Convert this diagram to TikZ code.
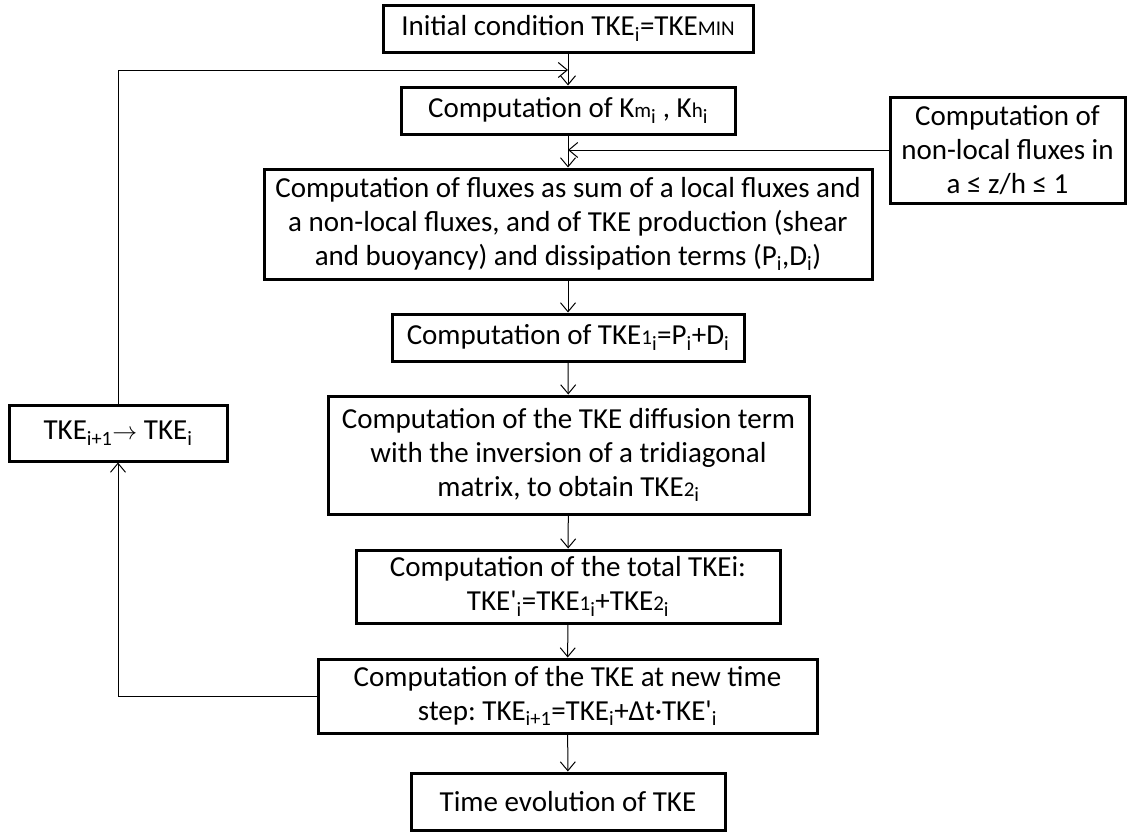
\documentclass[tikz,border=0pt]{standalone}
\usepackage{fontspec}
\setmainfont{Carlito}
\usetikzlibrary{arrows.meta}
\frenchspacing
\newcommand{\subi}[1]{\textsubscript{#1}}
\newcommand{\smtxt}[1]{{\fontsize{21}{21}\selectfont #1}}
\tikzset{
  box/.style={draw, line width=3pt, align=center, inner sep=0pt, font=\fontsize{29}{34}\selectfont},
  flow/.style={->, line width=1pt},
  >={Straight Barb[length=9pt,width=15pt]}
}
\begin{document}
\begin{tikzpicture}[x=1pt, y=-1pt]
\useasboundingbox (0,0) rectangle (1127,833);
\node[box, minimum width=370, minimum height=47] (init) at (568,28.5) {Initial condition TKE\subi{i}=TKE\smtxt{MIN}}; % start
\node[box, minimum width=334, minimum height=47] (km) at (568,110.5) {Computation of K\smtxt{m}\subi{i} , K\smtxt{h}\subi{i}}; % Km, Kh
\node[box, minimum width=235, minimum height=106] (nonloc) at (1007.5,150) {Computation of\\non-local fluxes in\\a ≤ z/h ≤ 1}; % side input
\node[box, minimum width=608, minimum height=110] (flux) at (568,224) {Computation of fluxes as sum of a local fluxes and\\a non-local fluxes, and of TKE production (shear\\and buoyancy) and dissipation terms (P\subi{i},D\subi{i})}; % fluxes
\node[box, minimum width=352, minimum height=47] (tkea) at (568,337.5) {Computation of TKE\smtxt{1}\subi{i}=P\subi{i}+D\subi{i}}; % TKE1
\node[box, minimum width=481, minimum height=118] (diff) at (568.5,455) {Computation of the TKE diffusion term\\with the inversion of a tridiagonal\\matrix, to obtain TKE\smtxt{2}\subi{i}}; % TKE2
\node[box, minimum width=424, minimum height=73] (total) at (568,586.5) {Computation of the total TKEi:\\TKE\textquotesingle\subi{i}=TKE\smtxt{1}\subi{i}+TKE\smtxt{2}\subi{i}}; % total
\node[box, minimum width=499, minimum height=74] (step) at (567.5,696) {Computation of the TKE at new time\\step: TKE\subi{i+1}=TKE\subi{i}+Δt·TKE\textquotesingle\subi{i}}; % new time step
\node[box, minimum width=314, minimum height=57] (final) at (568,801.5) {Time evolution of TKE}; % end
\node[box, minimum width=218, minimum height=56] (loop) at (118,433) {TKE\subi{i+1}$\rightarrow$ TKE\subi{i}}; % loop back
\coordinate (joina) at (568,70); % loop joins here
\coordinate (joinb) at (568,150); % non-local joins here
\draw[flow] (init) -- (km);
\draw[flow] (km) -- (flux);
\draw[flow] (nonloc.west) -- (joinb);
\draw[flow] (flux) -- (tkea);
\draw[flow] (tkea) -- (diff);
\draw[flow] (diff) -- (total);
\draw[flow] (total) -- (step);
\draw[flow] (step) -- (final);
\draw[flow] (step.west) -| (loop.south); % back to the left
\draw[flow] (loop.north) |- (joina); % and up to the top
\end{tikzpicture}
\end{document}
